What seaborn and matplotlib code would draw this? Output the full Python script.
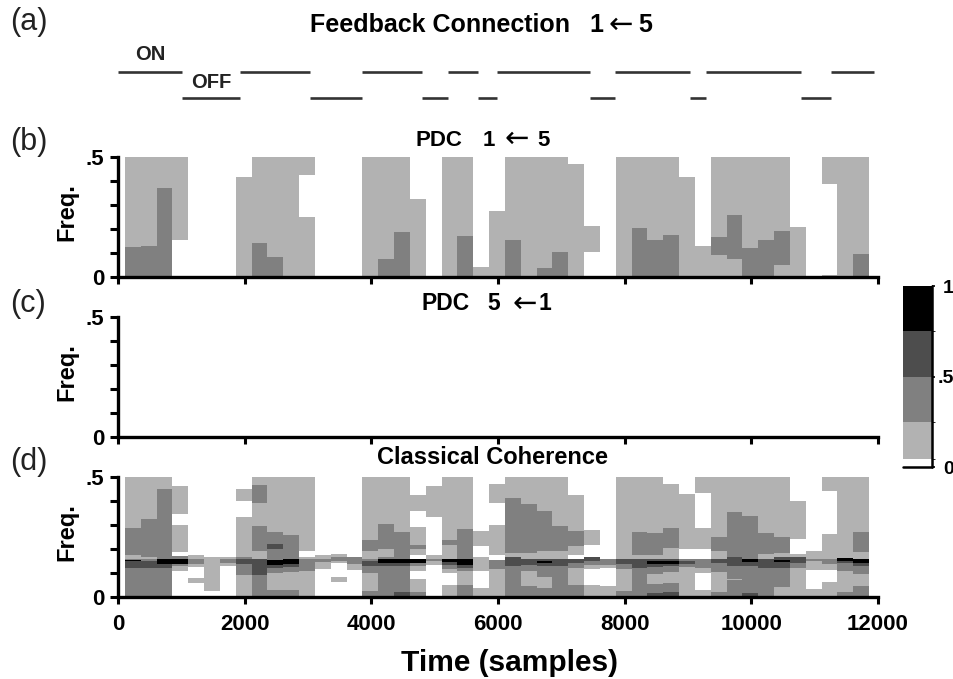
import numpy as np
from matplotlib import pyplot as plt
from matplotlib.colors import ListedColormap, BoundaryNorm
import seaborn as sns

W, H = 954, 679

# connection switch times in samples, ON and OFF stretches
on_times = [(0, 1006), (1926, 3032), (3853, 4800), (5211, 5684), (5984, 7453),
            (7848, 9032), (9284, 10784), (11258, 11937)]
off_times = [(1006, 1926), (3032, 3853), (4800, 5211), (5684, 5984), (7453, 7848),
             (9032, 9284), (10784, 11258)]

# analysis windows
win_start = 110
win_len = 250

# colour classes: 0 white, 1 light, 2 mid, 3 dark, 4 black
level_edges = [0, 0.044, 0.25, 0.5, 0.75, 1]
level_values = [0.02, 0.15, 0.37, 0.62, 0.87]
level_colors = ["#ffffff", "#b2b2b2", "#808080", "#4d4d4d", "#000000"]

# each window: (upper frequency, level) going up from 0
pdc_1_5 = [
    [(.128, 2), (.5, 1)], [(.132, 2), (.5, 1)], [(.371, 2), (.5, 1)],
    [(.156, 0), (.5, 1)], [(.5, 0)], [(.5, 0)], [(.5, 0)],
    [(.419, 1), (.5, 0)], [(.143, 2), (.5, 1)], [(.086, 2), (.5, 1)], [(.5, 1)],
    [(.253, 1), (.424, 0), (.5, 1)], [(.5, 0)], [(.5, 0)], [(.5, 0)],
    [(.5, 1)], [(.076, 2), (.5, 1)], [(.19, 2), (.5, 1)], [(.326, 1), (.5, 0)],
    [(.5, 0)], [(.5, 1)], [(.171, 2), (.5, 1)], [(.042, 1), (.5, 0)],
    [(.274, 1), (.5, 0)], [(.156, 2), (.5, 1)], [(.5, 1)], [(.039, 2), (.5, 1)],
    [(.104, 2), (.5, 1)], [(.472, 1), (.5, 0)], [(.104, 0), (.215, 1), (.5, 0)],
    [(.5, 0)], [(.5, 1)], [(.206, 2), (.5, 1)], [(.156, 2), (.5, 1)],
    [(.178, 2), (.5, 1)], [(.419, 1), (.5, 0)], [(.132, 1), (.5, 0)],
    [(.093, 1), (.169, 2), (.5, 1)], [(.076, 1), (.258, 2), (.5, 1)],
    [(.121, 2), (.5, 1)], [(.156, 2), (.5, 1)], [(.049, 1), (.193, 2), (.5, 1)],
    [(.208, 1), (.5, 0)], [(.5, 0)], [(.011, 1), (.389, 0), (.5, 1)], [(.5, 1)],
    [(.097, 2), (.5, 1)],
]

# nothing passes the threshold in this direction
pdc_5_1 = [[(.5, 0)] for _ in range(47)]

coherence = [
    [(.122, 2), (.15, 3), (.156, 4), (.161, 2), (.175, 1), (.289, 2), (.5, 1)],
    [(.122, 2), (.153, 3), (.161, 2), (.169, 1), (.328, 2), (.5, 1)],
    [(.122, 2), (.14, 3), (.158, 4), (.453, 2), (.5, 1)],
    [(.108, 0), (.129, 1), (.139, 2), (.161, 4), (.171, 2), (.19, 0), (.3, 1), (.347, 0), (.462, 1), (.5, 0)],
    [(.06, 0), (.08, 1), (.125, 0), (.139, 1), (.158, 2), (.175, 1), (.5, 0)],
    [(.028, 0), (.167, 1), (.5, 0)],
    [(.129, 0), (.143, 1), (.158, 2), (.167, 1), (.5, 0)],
    [(.094, 1), (.139, 2), (.158, 3), (.167, 2), (.333, 1), (.4, 0), (.453, 1), (.5, 0)],
    [(.094, 2), (.161, 3), (.194, 1), (.296, 2), (.393, 1), (.469, 2), (.5, 1)],
    [(.029, 2), (.101, 1), (.122, 2), (.136, 3), (.157, 4), (.203, 2), (.222, 3), (.272, 2), (.5, 1)],
    [(.029, 2), (.106, 1), (.125, 2), (.139, 3), (.158, 4), (.261, 2), (.5, 1)],
    [(.108, 1), (.158, 2), (.167, 1), (.192, 0), (.5, 1)],
    [(.119, 0), (.147, 1), (.158, 2), (.178, 1), (.5, 0)],
    [(.063, 0), (.083, 1), (.143, 0), (.15, 1), (.167, 2), (.181, 1), (.5, 0)],
    [(.115, 0), (.139, 1), (.169, 2), (.5, 0)],
    [(.025, 2), (.101, 1), (.132, 2), (.153, 3), (.16, 2), (.194, 1), (.24, 2), (.5, 1)],
    [(.129, 2), (.143, 3), (.158, 4), (.167, 2), (.203, 1), (.306, 2), (.5, 1)],
    [(.022, 3), (.129, 2), (.143, 3), (.161, 4), (.271, 2), (.5, 1)],
    [(.022, 2), (.074, 1), (.108, 0), (.129, 1), (.143, 2), (.161, 4), (.178, 0), (.203, 1), (.219, 2), (.293, 1), (.358, 0), (.428, 1), (.5, 0)],
    [(.136, 0), (.15, 1), (.161, 2), (.175, 1), (.333, 0), (.462, 1), (.5, 0)],
    [(.053, 1), (.101, 0), (.118, 1), (.136, 2), (.147, 3), (.158, 4), (.217, 1), (.24, 2), (.5, 1)],
    [(.05, 2), (.108, 1), (.122, 2), (.136, 3), (.158, 4), (.286, 2), (.5, 1)],
    [(.039, 1), (.111, 0), (.167, 1), (.213, 0), (.278, 1), (.5, 0)],
    [(.119, 1), (.157, 2), (.178, 0), (.3, 1), (.393, 0), (.472, 1), (.5, 0)],
    [(.129, 2), (.167, 3), (.185, 1), (.414, 2), (.5, 1)],
    [(.046, 2), (.108, 1), (.136, 2), (.161, 3), (.186, 1), (.389, 2), (.5, 1)],
    [(.039, 2), (.083, 1), (.129, 2), (.142, 3), (.153, 4), (.161, 3), (.192, 1), (.358, 2), (.5, 1)],
    [(.129, 2), (.161, 3), (.194, 1), (.296, 2), (.5, 1)],
    [(.05, 2), (.122, 1), (.143, 2), (.158, 3), (.178, 0), (.213, 1), (.278, 2), (.425, 1), (.5, 0)],
    [(.053, 1), (.119, 0), (.136, 1), (.15, 2), (.167, 3), (.217, 0), (.282, 1), (.5, 0)],
    [(.046, 1), (.122, 0), (.136, 1), (.161, 2), (.5, 0)],
    [(.028, 2), (.119, 1), (.14, 2), (.161, 3), (.5, 1)],
    [(.122, 2), (.161, 3), (.175, 1), (.272, 2), (.5, 1)],
    [(.018, 3), (.056, 2), (.097, 1), (.125, 2), (.139, 3), (.15, 4), (.161, 3), (.178, 1), (.268, 2), (.5, 1)],
    [(.022, 3), (.06, 2), (.106, 1), (.129, 2), (.139, 3), (.153, 4), (.161, 3), (.206, 1), (.289, 2), (.472, 1), (.5, 0)],
    [(.125, 1), (.139, 2), (.15, 3), (.161, 2), (.2, 0), (.431, 1), (.5, 0)],
    [(.032, 1), (.101, 0), (.122, 1), (.161, 2), (.203, 0), (.289, 1), (.435, 0), (.5, 1)],
    [(.022, 2), (.106, 1), (.142, 2), (.161, 3), (.192, 1), (.253, 2), (.5, 1)],
    [(.07, 2), (.075, 1), (.129, 2), (.167, 3), (.356, 2), (.5, 1)],
    [(.018, 3), (.129, 2), (.147, 3), (.161, 4), (.338, 2), (.5, 1)],
    [(.122, 2), (.161, 3), (.181, 1), (.268, 2), (.5, 1)],
    [(.042, 1), (.122, 2), (.147, 3), (.157, 4), (.167, 3), (.185, 1), (.25, 2), (.5, 1)],
    [(.122, 1), (.143, 2), (.167, 3), (.181, 1), (.243, 0), (.403, 1), (.5, 0)],
    [(.036, 1), (.114, 0), (.15, 1), (.161, 2), (.192, 1), (.5, 0)],
    [(.064, 1), (.114, 0), (.139, 1), (.161, 2), (.264, 1), (.442, 0), (.5, 1)],
    [(.022, 2), (.111, 1), (.142, 2), (.153, 3), (.164, 4), (.5, 1)],
    [(.046, 2), (.097, 1), (.131, 2), (.143, 3), (.161, 4), (.188, 1), (.272, 2), (.5, 1)],
]

x_ticks = [0, 2000, 4000, 6000, 8000, 10000, 12000]
n_rows = 240


def to_matrix(columns):
    # one row per frequency step, lowest frequency in row 0
    freqs = (np.arange(n_rows) + 0.5) / n_rows * 0.5
    out = np.zeros((n_rows, len(columns)))
    for j, segs in enumerate(columns):
        tops = [s[0] for s in segs]
        levels = [s[1] for s in segs]
        idx = np.searchsorted(tops, freqs)
        out[:, j] = np.array(level_values)[np.array(levels)[idx]]
    return out


def win_pos(t):
    return (np.asarray(t, dtype=float) - win_start) / win_len


def box(left, top, right, bottom):
    return [left / W, 1 - bottom / H, (right - left) / W, (bottom - top) / H]


sns.set_style("white")
plt.rcParams["font.family"] = ["Liberation Sans", "DejaVu Sans"]
plt.rcParams["text.color"] = "black"
plt.rcParams["xtick.color"] = "black"
plt.rcParams["ytick.color"] = "black"

fig = plt.figure(figsize=(W / 100, H / 100), dpi=100)
cmap = ListedColormap(level_colors)
norm = BoundaryNorm(level_edges, cmap.N)

ax_a = fig.add_axes(box(118, 60, 878, 110))
ax_a.hlines([1] * len(on_times), [t[0] for t in on_times], [t[1] for t in on_times], color="#333333", lw=1.9)
ax_a.hlines([0] * len(off_times), [t[0] for t in off_times], [t[1] for t in off_times], color="#333333", lw=1.9)
ax_a.set_xlim(0, 12000)
ax_a.set_ylim(-0.46, 1.46)
ax_a.axis("off")

panels = [(pdc_1_5, 157, 277), (pdc_5_1, 317, 437), (coherence, 477, 597)]
cax = fig.add_axes(box(903, 286, 932, 467))
axes = []
for i, (data, top, bottom) in enumerate(panels):
    ax = fig.add_axes(box(118, top, 878, bottom))
    sns.heatmap(to_matrix(data), ax=ax, cmap=cmap, norm=norm, cbar=i == 0, cbar_ax=cax if i == 0 else None,
                cbar_kws={"ticks": [0, 0.5, 1], "spacing": "proportional"},
                xticklabels=False, yticklabels=False)
    ax.set_xlim(win_pos(0), win_pos(12000))
    ax.set_ylim(0, n_rows)
    ax.set_xticks(win_pos(x_ticks))
    ax.set_xticklabels([str(t) for t in x_ticks] if i == 2 else [""] * len(x_ticks), fontsize=16, fontweight="bold")
    ax.set_yticks(np.arange(0, 6) / 5 * n_rows)
    ax.set_yticklabels(["0", "", "", "", "", ".5"], fontsize=16, fontweight="bold", rotation=0)
    ax.tick_params(axis="x", length=5, width=2.2, bottom=True, pad=7)
    ax.tick_params(axis="y", length=6, width=2.2, left=True, pad=4)
    for side in ["left", "bottom"]:
        ax.spines[side].set_visible(True)
        ax.spines[side].set_linewidth(2.4)
        ax.spines[side].set_color("black")
    for side in ["top", "right"]:
        ax.spines[side].set_visible(False)
    axes.append(ax)

# colour scale
cax.set_yticklabels(["0", ".5", "1"], fontsize=14, fontweight="bold", ha="right")
cax.tick_params(axis="y", length=2, width=1.2, pad=13.5, right=True)
cax.axvline(1, color="black", lw=1.8, clip_on=False)
cax.axhline(0, color="black", lw=1.8, clip_on=False)


def label(x, y, s, **kw):
    fig.text(x / W, 1 - y / H, s, ha=kw.pop("ha", "center"), va="center", **kw)


def arrow(x, y):
    label(x, y, "\u2190", fontsize=21, fontfamily="DejaVu Sans")


for s, y in [("(a)", 22), ("(b)", 142), ("(c)", 304), ("(d)", 462)]:
    label(10, y, s, ha="left", fontsize=22, color="#222222")

label(310, 25, "Feedback Connection", ha="left", fontsize=18, fontweight="bold")
label(596, 25, "1", fontsize=18, fontweight="bold")
arrow(621, 25)
label(645, 25, "5", fontsize=18, fontweight="bold")
label(150, 55, "ON", fontsize=14.5, fontweight="bold", color="#222222")
label(211, 83, "OFF", fontsize=14.5, fontweight="bold", color="#222222")

label(416, 140, "PDC", ha="left", fontsize=16, fontweight="bold")
label(489, 140, "1", fontsize=16, fontweight="bold")
arrow(517, 139)
label(544, 140, "5", fontsize=16, fontweight="bold")
label(422, 304, "PDC", ha="left", fontsize=16.5, fontweight="bold")
label(494, 304, "5", fontsize=16.5, fontweight="bold")
arrow(525, 304)
label(545, 304, "1", fontsize=16.5, fontweight="bold")
label(493, 458, "Classical Coherence", fontsize=17, fontweight="bold")

for y in [212, 372, 532]:
    label(67, y, "Freq.", rotation=90, fontsize=17, fontweight="bold")
label(510, 663, "Time (samples)", fontsize=21.5, fontweight="bold")

plt.savefig("out.png", dpi=100)
plt.close()
